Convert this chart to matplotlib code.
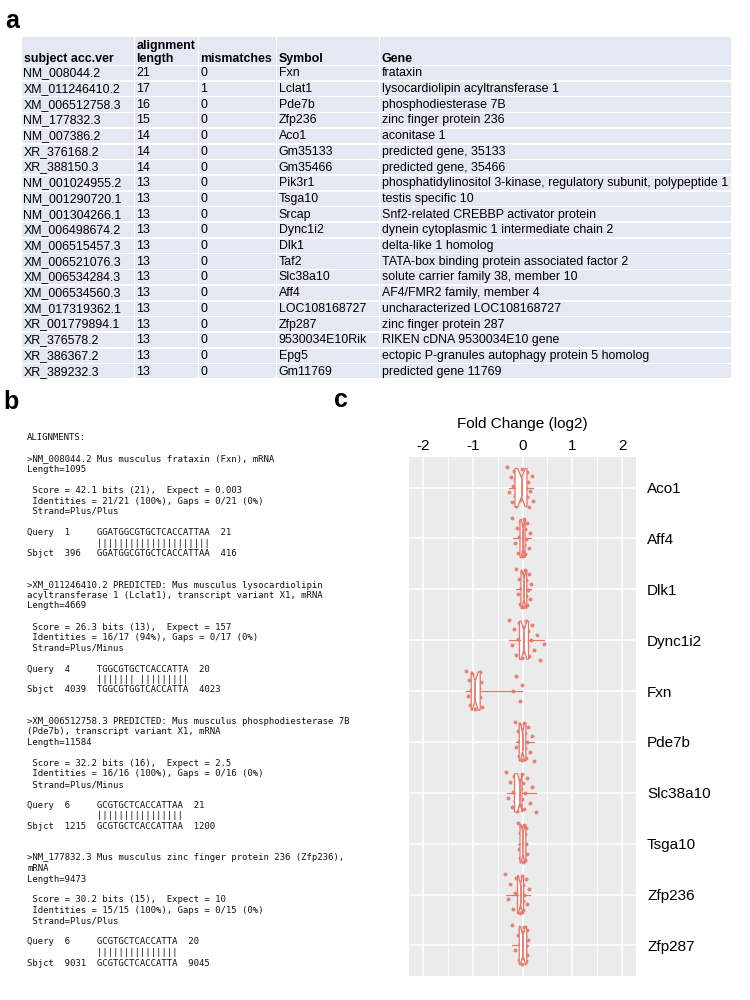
import numpy as np
import matplotlib
matplotlib.use("Agg")
import matplotlib.pyplot as plt
from matplotlib.patches import Rectangle

plt.rcParams['font.family'] = ['Liberation Sans', 'DejaVu Sans']

# ---- panel a: blast hits
acc_ver = ['NM_008044.2', 'XM_011246410.2', 'XM_006512758.3', 'NM_177832.3', 'NM_007386.2',
           'XR_376168.2', 'XR_388150.3', 'NM_001024955.2', 'NM_001290720.1', 'NM_001304266.1',
           'XM_006498674.2', 'XM_006515457.3', 'XM_006521076.3', 'XM_006534284.3', 'XM_006534560.3',
           'XM_017319362.1', 'XR_001779894.1', 'XR_376578.2', 'XR_386367.2', 'XR_389232.3']
aln_length = [21, 17, 16, 15, 14, 14, 14, 13, 13, 13, 13, 13, 13, 13, 13, 13, 13, 13, 13, 13]
mismatches = [0, 1, 0, 0, 0, 0, 0, 0, 0, 0, 0, 0, 0, 0, 0, 0, 0, 0, 0, 0]
symbols = ['Fxn', 'Lclat1', 'Pde7b', 'Zfp236', 'Aco1', 'Gm35133', 'Gm35466', 'Pik3r1', 'Tsga10',
           'Srcap', 'Dync1i2', 'Dlk1', 'Taf2', 'Slc38a10', 'Aff4', 'LOC108168727', 'Zfp287',
           '9530034E10Rik', 'Epg5', 'Gm11769']
gene_names = ['frataxin', 'lysocardiolipin acyltransferase 1', 'phosphodiesterase 7B',
              'zinc finger protein 236', 'aconitase 1', 'predicted gene, 35133',
              'predicted gene, 35466',
              'phosphatidylinositol 3-kinase, regulatory subunit, polypeptide 1',
              'testis specific 10', 'Snf2-related CREBBP activator protein',
              'dynein cytoplasmic 1 intermediate chain 2', 'delta-like 1 homolog',
              'TATA-box binding protein associated factor 2', 'solute carrier family 38, member 10',
              'AF4/FMR2 family, member 4', 'uncharacterized LOC108168727', 'zinc finger protein 287',
              'RIKEN cDNA 9530034E10 gene', 'ectopic P-granules autophagy protein 5 homolog',
              'predicted gene 11769']

# ---- panel b: blast alignment text
alignment_lines = [
    "ALIGNMENTS:",
    "",
    ">NM_008044.2 Mus musculus frataxin (Fxn), mRNA",
    "Length=1095",
    "",
    " Score = 42.1 bits (21),  Expect = 0.003",
    " Identities = 21/21 (100%), Gaps = 0/21 (0%)",
    " Strand=Plus/Plus",
    "",
    "Query  1     GGATGGCGTGCTCACCATTAA  21",
    "             |||||||||||||||||||||",
    "Sbjct  396   GGATGGCGTGCTCACCATTAA  416",
    "",
    "",
    ">XM_011246410.2 PREDICTED: Mus musculus lysocardiolipin",
    "acyltransferase 1 (Lclat1), transcript variant X1, mRNA",
    "Length=4669",
    "",
    " Score = 26.3 bits (13),  Expect = 157",
    " Identities = 16/17 (94%), Gaps = 0/17 (0%)",
    " Strand=Plus/Minus",
    "",
    "Query  4     TGGCGTGCTCACCATTA  20",
    "             ||||||| |||||||||",
    "Sbjct  4039  TGGCGTGGTCACCATTA  4023",
    "",
    "",
    ">XM_006512758.3 PREDICTED: Mus musculus phosphodiesterase 7B",
    "(Pde7b), transcript variant X1, mRNA",
    "Length=11584",
    "",
    " Score = 32.2 bits (16),  Expect = 2.5",
    " Identities = 16/16 (100%), Gaps = 0/16 (0%)",
    " Strand=Plus/Minus",
    "",
    "Query  6     GCGTGCTCACCATTAA  21",
    "             ||||||||||||||||",
    "Sbjct  1215  GCGTGCTCACCATTAA  1200",
    "",
    "",
    ">NM_177832.3 Mus musculus zinc finger protein 236 (Zfp236),",
    "mRNA",
    "Length=9473",
    "",
    " Score = 30.2 bits (15),  Expect = 10",
    " Identities = 15/15 (100%), Gaps = 0/15 (0%)",
    " Strand=Plus/Plus",
    "",
    "Query  6     GCGTGCTCACCATTA  20",
    "             |||||||||||||||",
    "Sbjct  9031  GCGTGCTCACCATTA  9045",
]

# ---- panel c: log2 fold change per gene
genes = ['Aco1', 'Aff4', 'Dlk1', 'Dync1i2', 'Fxn', 'Pde7b', 'Slc38a10', 'Tsga10', 'Zfp236', 'Zfp287']
fc_aco1 = [-0.31, -0.27, -0.24, -0.21, -0.19, -0.17, -0.16, -0.15, -0.13, -0.11, -0.08, -0.05, -0.03,
           -0.01, 0.01, 0.03, 0.05, 0.07, 0.09, 0.10, 0.12, 0.14, 0.16, 0.19, 0.22]
fc_aff4 = [-0.21, -0.16, -0.12, -0.09, -0.07, -0.05, -0.04, -0.03, -0.02, -0.01, 0.0, 0.01, 0.02,
           0.03, 0.04, 0.05, 0.06, 0.08, 0.10, 0.13, 0.16]
fc_dlk1 = [-0.13, -0.10, -0.07, -0.05, -0.03, -0.02, -0.01, 0.0, 0.01, 0.02, 0.03, 0.04, 0.05,
           0.06, 0.07, 0.08, 0.09, 0.11, 0.13, 0.15, 0.17]
fc_dync1i2 = [-0.28, -0.22, -0.18, -0.14, -0.10, -0.07, -0.05, -0.03, -0.01, 0.01, 0.02, 0.04,
              0.06, 0.08, 0.10, 0.12, 0.14, 0.17, 0.20, 0.24, 0.30, 0.36, 0.43]
fc_fxn = [-1.13, -1.10, -1.07, -1.05, -1.03, -1.01, -0.99, -0.97, -0.95, -0.94, -0.92, -0.90,
          -0.88, -0.86, -0.85, -0.83, -0.82, -0.19, -0.14, -0.06, -0.01]
fc_pde7b = [-0.16, -0.13, -0.10, -0.08, -0.07, -0.05, -0.04, -0.03, -0.02, -0.01, 0.0, 0.01, 0.02,
            0.03, 0.05, 0.06, 0.07, 0.09, 0.12, 0.15, 0.19, 0.23]
fc_slc38a10 = [-0.34, -0.30, -0.26, -0.22, -0.19, -0.17, -0.15, -0.13, -0.11, -0.09, -0.07, -0.05,
               -0.04, -0.02, -0.01, 0.01, 0.03, 0.06, 0.10, 0.15, 0.20, 0.27]
fc_tsga10 = [-0.10, -0.08, -0.06, -0.05, -0.04, -0.03, -0.02, -0.01, 0.0, 0.0, 0.01, 0.02, 0.02,
             0.03, 0.04, 0.05, 0.06, 0.07, 0.08, 0.10]
fc_zfp236 = [-0.35, -0.30, -0.25, -0.20, -0.16, -0.13, -0.10, -0.08, -0.06, -0.05, -0.04, -0.03,
             -0.02, -0.01, 0.0, 0.01, 0.02, 0.04, 0.07, 0.10, 0.14]
fc_zfp287 = [-0.21, -0.15, -0.10, -0.07, -0.06, -0.05, -0.03, -0.02, -0.01, 0.0, 0.01, 0.02, 0.03,
             0.04, 0.05, 0.06, 0.07, 0.08, 0.09, 0.10, 0.12]
fc_all = [fc_aco1, fc_aff4, fc_dlk1, fc_dync1i2, fc_fxn, fc_pde7b, fc_slc38a10, fc_tsga10,
          fc_zfp236, fc_zfp287]

# box summary as drawn in the figure
box_q1 = [-0.15, -0.05, -0.03, -0.06, -1.03, -0.066, -0.16, -0.05, -0.10, -0.066]
box_med = [-0.02, 0.01, 0.03, 0.03, -0.95, 0.0, -0.05, 0.01, -0.04, 0.01]
box_q3 = [0.09, 0.05, 0.085, 0.12, -0.85, 0.066, -0.01, 0.066, 0.02, 0.085]
whisk_lo = [-0.28, -0.20, -0.14, -0.28, -1.13, -0.14, -0.32, -0.10, -0.34, -0.21]
whisk_hi = [0.22, 0.18, 0.18, 0.43, -0.01, 0.23, 0.27, 0.10, 0.15, 0.12]

W, H = 750, 1000
SALMON = '#E8756A'
TABLE_BG = '#E4E8F3'

fig = plt.figure(figsize=(7.5, 10), dpi=100)
fig.patch.set_facecolor('white')

# overlay axes in pixel units for table / text
ov = fig.add_axes([0, 0, 1, 1])
ov.set_xlim(0, W)
ov.set_ylim(H, 0)
ov.axis('off')

ov.text(5, 21, 'a', fontsize=18, fontweight='bold', va='center')
ov.text(3, 402, 'b', fontsize=18, fontweight='bold', va='center')
ov.text(334, 400, 'c', fontsize=18, fontweight='bold', va='center')

# table
col_edges = [22, 135, 199, 277, 380, 732]
gap = 1.5
head_top, head_bot = 37, 66
row_h = 15.7
n_rows = len(acc_ver)
for c in range(len(col_edges) - 1):
    x0, x1 = col_edges[c], col_edges[c + 1]
    ov.add_patch(Rectangle((x0, head_top), x1 - x0 - gap, head_bot - head_top - gap,
                           facecolor=TABLE_BG, edgecolor='none'))
    for r in range(n_rows):
        y0 = head_bot + r * row_h
        ov.add_patch(Rectangle((x0, y0), x1 - x0 - gap, row_h - gap,
                               facecolor=TABLE_BG, edgecolor='none'))

tfs = 8.9
headers = ['subject acc.ver', 'length', 'mismatches', 'Symbol', 'Gene']
for c, h in enumerate(headers):
    ov.text(col_edges[c] + 1.5, 59, h, fontsize=tfs, fontweight='bold', va='center')
ov.text(col_edges[1] + 1.5, 46, 'alignment', fontsize=tfs, fontweight='bold', va='center')

for r in range(n_rows):
    yc = head_bot + r * row_h + row_h / 2 - 0.5
    cells = [acc_ver[r], str(aln_length[r]), str(mismatches[r]), symbols[r], gene_names[r]]
    for c, val in enumerate(cells):
        ov.text(col_edges[c] + 1.5, yc, val, fontsize=tfs, va='center')

# alignment text
line_y0, line_dy = 438, 10.5
for i, line in enumerate(alignment_lines):
    if line:
        ov.text(27, line_y0 + i * line_dy, line, family='DejaVu Sans Mono', fontsize=6.45,
                va='center', color='#111111')

# ---- panel c
ax = fig.add_axes([409 / W, 1 - 976 / H, 227 / W, 519 / H])
ax.set_facecolor('#EBEBEB')
ypos = np.arange(len(genes))

for i, vals in enumerate(fc_all):
    n = len(vals)
    jit = ((np.arange(n) * 0.618034) % 1 - 0.5) * 0.8
    ax.scatter(vals, ypos[i] + jit, s=8, color=SALMON, alpha=0.9, linewidths=0, zorder=2)

stats = []
for i in range(len(genes)):
    half = 1.58 * (box_q3[i] - box_q1[i]) / np.sqrt(len(fc_all[i]))
    stats.append(dict(med=box_med[i], q1=box_q1[i], q3=box_q3[i],
                      whislo=whisk_lo[i], whishi=whisk_hi[i],
                      cilo=box_med[i] - half, cihi=box_med[i] + half, fliers=[]))

ax.bxp(stats, positions=ypos, widths=0.75, orientation='horizontal', shownotches=True,
       showcaps=False, showfliers=False, patch_artist=True,
       boxprops=dict(facecolor='white', edgecolor=SALMON, linewidth=0.9),
       whiskerprops=dict(color=SALMON, linewidth=0.9),
       medianprops=dict(color=SALMON, linewidth=1.3), zorder=3)

ax.set_xlim(-2.28, 2.28)
ax.set_ylim(len(genes) - 0.4, -0.6)
ax.set_xticks([-2, -1, 0, 1, 2])
ax.set_xticklabels(['-2', '-1', '0', '1', '2'])
ax.set_xticks([-1.5, -0.5, 0.5, 1.5], minor=True)
ax.xaxis.tick_top()
ax.xaxis.set_label_position('top')
ax.set_xlabel('Fold Change (log2)', fontsize=11, labelpad=8)
ax.set_yticks(ypos)
ax.set_yticklabels(genes)
ax.yaxis.tick_right()
ax.tick_params(which='both', length=0, labelsize=11, colors='black')
ax.tick_params(axis='x', pad=3)
ax.tick_params(axis='y', pad=8)
ax.grid(which='major', color='white', linewidth=1.1)
ax.grid(which='minor', axis='x', color='white', linewidth=0.6)
ax.set_axisbelow(True)
for s in ax.spines.values():
    s.set_visible(False)

fig.savefig('out.png', dpi=100)
